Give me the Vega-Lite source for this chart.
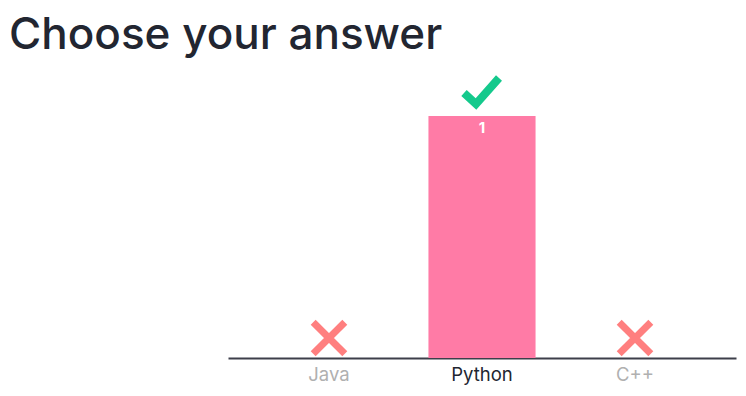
{
  "$schema": "https://vega.github.io/schema/vega-lite/v6.json",
  "autosize": "none",
  "padding": {"left": 228, "top": 70, "right": 10, "bottom": 38},
  "width": 508,
  "height": 288,
  "background": "white",
  "title": {
    "text": "Choose your answer",
    "anchor": "start",
    "frame": "group",
    "dx": -219,
    "offset": 4,
    "font": "Inter",
    "fontSize": 44,
    "fontWeight": 500,
    "color": "#222631"
  },
  "data": {
    "values": [
      {"answer": "Java", "count": 0, "correct": false},
      {"answer": "Python", "count": 1, "correct": true},
      {"answer": "C++", "count": 0, "correct": false}
    ]
  },
  "encoding": {
    "x": {
      "field": "answer",
      "type": "nominal",
      "sort": null,
      "scale": {"paddingInner": 0.3, "paddingOuter": 0.31},
      "axis": {
        "title": null,
        "labelAngle": 0,
        "ticks": false,
        "domainColor": "#3d3f4a",
        "domainWidth": 2,
        "labelFont": "Inter",
        "labelFontSize": 18.5,
        "labelPadding": 7,
        "labelColor": {"condition": {"test": "datum.value === 'Python'", "value": "#222631"}, "value": "#b0b0b0"}
      }
    },
    "y": {
      "field": "count",
      "type": "quantitative",
      "scale": {"domain": [0, 1.19]},
      "axis": null
    }
  },
  "layer": [
    {"mark": {"type": "bar", "color": "#FF7BA6"}},
    {
      "transform": [{"filter": "datum.count > 0"}],
      "mark": {"type": "text", "baseline": "top", "dy": 5, "color": "white", "font": "Inter", "fontWeight": "bold", "fontSize": 15},
      "encoding": {"text": {"field": "count", "type": "quantitative"}}
    },
    {
      "transform": [{"filter": "datum.correct"}],
      "mark": {"type": "point", "shape": "M-0.9,0.05L-0.3,0.6L0.85,-0.7", "filled": false, "stroke": "#14C98C", "strokeWidth": 8, "size": 1600, "yOffset": -24, "opacity": 1}
    },
    {
      "transform": [{"filter": "!datum.correct"}],
      "mark": {"type": "point", "shape": "M-1,-1L1,1M1,-1L-1,1", "filled": false, "stroke": "#FF7F7F", "strokeWidth": 7, "size": 1000, "yOffset": -20, "opacity": 1}
    }
  ],
  "config": {"view": {"stroke": null}}
}
